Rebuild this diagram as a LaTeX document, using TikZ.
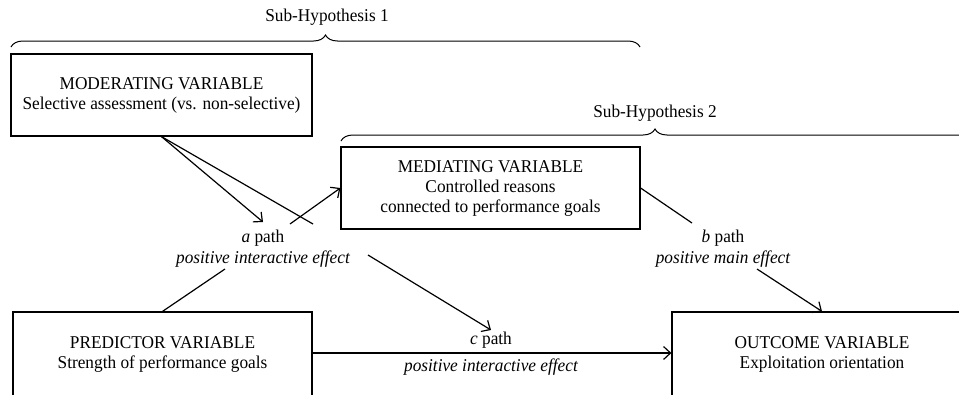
\documentclass[tikz,border=0pt]{standalone}
\usepackage{fontspec}
\setmainfont[FakeStretch=0.96]{Liberation Serif}
\usetikzlibrary{arrows.meta,decorations.pathreplacing}
\begin{document}
\begin{tikzpicture}[x=1pt,y=-1pt, line width=1.2pt,
  box/.style={draw, align=center, inner sep=0pt, font=\fontsize{18}{20}\selectfont},
  lbl/.style={align=center, inner sep=0pt, font=\fontsize{18}{21}\selectfont},
  arr/.style={-{Straight Barb[length=7pt,width=13pt]}},
  brc/.style={decorate, decoration={brace, amplitude=12pt}}]
\useasboundingbox (0,0) rectangle (959,394);
\clip (0,0) rectangle (959,394);

% boxes
\node[box, minimum width=301pt, minimum height=82pt] (mod) at (161.5,95)
  {MODERATING VARIABLE\\Selective assessment (vs. non-selective)};
\node[box, minimum width=299pt, minimum height=82pt] (med) at (490.5,188)
  {MEDIATING VARIABLE\\Controlled reasons\\connected to performance goals};
\node[box, minimum width=299pt, minimum height=84pt] (pred) at (162.5,354)
  {PREDICTOR VARIABLE\\Strength of performance goals};
\node[box, minimum width=300pt, minimum height=84pt] (out) at (822,354)
  {OUTCOME VARIABLE\\Exploitation orientation};

% braces and their labels
\coordinate (b1l) at (11,47);
\coordinate (b1r) at (640,47);
\draw[brc, line width=1pt] (b1l) -- (b1r);
\node[lbl] (sh1) at (327,17) {Sub-Hypothesis 1};
\coordinate (b2l) at (341,141);
\coordinate (b2r) at (969,141);
\draw[brc, line width=1pt] (b2l) -- (b2r);
\node[lbl] (sh2) at (655,113) {Sub-Hypothesis 2};

% path labels
\node[lbl] (alab) at (263,248.5) {{\itshape a} path\\\itshape positive interactive effect};
\node[lbl] (blab) at (723,248.5) {{\itshape b} path\\\itshape positive main effect};
\node[lbl] (clab) at (491,340) {{\itshape c} path};
\node[lbl] (ceff) at (491,367) {\itshape positive interactive effect};

% connector ends
\coordinate (atip) at (263,222);
\coordinate (aline) at (313,224);
\coordinate (astart) at (290,224);
\coordinate (pup) at (225,269);
\coordinate (cst) at (368,255);
\coordinate (ctip) at (491,330);
\coordinate (bend) at (692,223);
\coordinate (bst) at (757,269);

% connectors
\draw[arr] (mod.south) -- (atip);
\draw (mod.south) -- (aline);
\draw[arr] (astart) -- (med.west);
\draw (pred.north) -- (pup);
\draw[arr] (cst) -- (ctip);
\draw[arr] ([yshift=1pt]pred.east) -- ([yshift=1pt]out.west);
\draw (med.east) -- (bend);
\draw[arr] (bst) -- (out.north);
\end{tikzpicture}
\end{document}
